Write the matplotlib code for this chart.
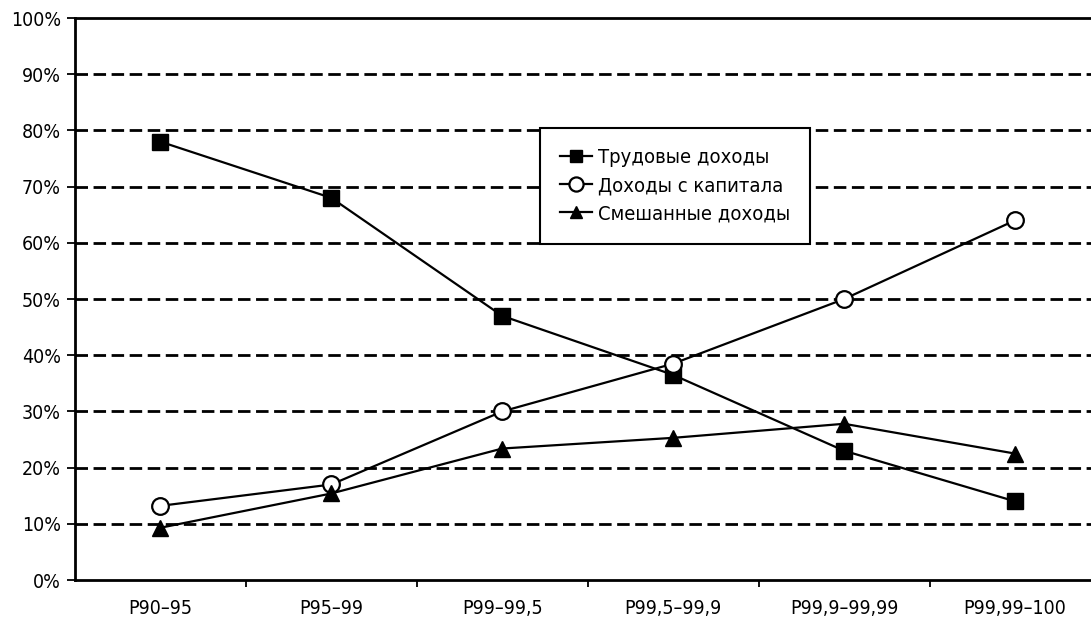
import matplotlib
matplotlib.use("Agg")
import matplotlib.pyplot as plt
from matplotlib.ticker import FixedLocator, PercentFormatter

plt.rcParams['font.family'] = ['DejaVu Sans']
plt.rcParams['font.stretch'] = 'condensed'

categories = ["P90–95", "P95–99", "P99–99,5", "P99,5–99,9", "P99,9–99,99", "P99,99–100"]
labor = [78, 68, 47, 36.5, 23, 14]
capital = [13.2, 17, 30, 38.5, 50, 64]
mixed = [9.3, 15.4, 23.4, 25.3, 27.8, 22.5]
series_names = ["Трудовые доходы", "Доходы с капитала", "Смешанные доходы"]
yticks = [0, 10, 20, 30, 40, 50, 60, 70, 80, 90, 100]

fig = plt.figure(figsize=(10.91, 6.23), dpi=100)
ax = fig.add_axes([0.0687, 0.069, 0.940, 0.902])

x = list(range(len(categories)))
ax.plot(x, labor, color='black', lw=1.6, marker='s', ms=11, mfc='black', mec='black', label=series_names[0], zorder=5)
ax.plot(x, capital, color='black', lw=1.6, marker='o', ms=12, mfc='white', mec='black', mew=1.6, label=series_names[1], zorder=5)
ax.plot(x, mixed, color='black', lw=1.6, marker='^', ms=11, mfc='black', mec='black', label=series_names[2], zorder=5)

ax.set_xlim(-0.5, len(categories) - 0.5)
ax.set_ylim(0, 100)
ax.set_yticks(yticks)
ax.yaxis.set_major_formatter(PercentFormatter(decimals=0))
for v in yticks[1:-1]:
    ax.axhline(v, color='black', lw=2.0, ls=(0, (4.5, 2.0)), zorder=1)

ax.set_xticks(x)
ax.set_xticklabels(categories)
ax.xaxis.set_minor_locator(FixedLocator([i + 0.5 for i in x[:-1]]))
ax.tick_params(axis='x', which='major', length=0, pad=14, labelsize=14)
ax.tick_params(axis='x', which='minor', length=5, width=1.3, direction='out')
ax.tick_params(axis='y', length=6, width=1.3, direction='out', labelsize=14, pad=4)

for s in ['left', 'bottom', 'top']:
    ax.spines[s].set_linewidth(2.0)
ax.spines['right'].set_visible(False)

leg = ax.legend(loc='upper left', bbox_to_anchor=(0.453, 0.804), fontsize=14.5,
                frameon=True, fancybox=False, shadow=False, handlelength=1.6,
                borderpad=1.0, labelspacing=0.45, handletextpad=0.3, markerscale=0.85,
                borderaxespad=0)
leg.get_frame().set_edgecolor('black')
leg.get_frame().set_linewidth(1.5)
leg.get_frame().set_alpha(1)

fig.savefig("out.png", dpi=100)
